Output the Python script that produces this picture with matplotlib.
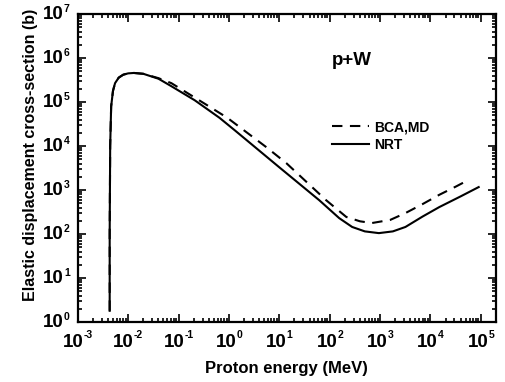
import numpy as np
import matplotlib.pyplot as plt
from matplotlib.ticker import LogLocator, NullFormatter

plt.rcParams["font.family"] = "Liberation Sans"
plt.rcParams["font.weight"] = "bold"

# =============================
# Data (MeV, barn)
# =============================
e_nrt = [0.0043, 0.0043, 0.0044, 0.0046, 0.005, 0.0055, 0.0065, 0.008, 0.010,
         0.013, 0.020, 0.040, 0.072, 0.21, 0.65, 1.3, 10.0, 62.0, 155.0,
         280.0, 500.0, 950.0, 1800.0, 3200.0, 7000.0, 15000.0, 40000.0, 91000.0]
s_nrt = [1.8, 100.0, 1.0e4, 8.0e4, 1.8e5, 2.7e5, 3.6e5, 4.2e5, 4.5e5,
         4.6e5, 4.4e5, 3.4e5, 2.3e5, 1.1e5, 4.4e4, 2.3e4, 3.3e3, 590.0, 230.0,
         145.0, 115.0, 105.0, 115.0, 145.0, 250.0, 410.0, 720.0, 1170.0]

e_bca = [0.0043, 0.0043, 0.0044, 0.0046, 0.005, 0.0055, 0.0065, 0.008, 0.010,
         0.013, 0.020, 0.040, 0.072, 0.37, 0.93, 5.5, 13.8, 85.0, 214.0,
         400.0, 690.0, 1600.0, 3200.0, 7000.0, 15000.0, 32000.0, 60000.0]
s_bca = [1.8, 100.0, 1.0e4, 8.0e4, 1.8e5, 2.7e5, 3.6e5, 4.2e5, 4.5e5,
         4.6e5, 4.4e5, 3.5e5, 2.7e5, 8.5e4, 4.4e4, 9.5e3, 4.1e3, 590.0, 245.0,
         195.0, 178.0, 210.0, 300.0, 480.0, 780.0, 1200.0, 1750.0]

x_exps = [-3, -2, -1, 0, 1, 2, 3, 4, 5]
y_exps = [0, 1, 2, 3, 4, 5, 6, 7]

# =============================
# Plot
# =============================
fig = plt.figure(figsize=(5.05, 3.82), dpi=100)
ax = fig.add_axes([0.154, 0.157, 0.828, 0.806])

ax.plot(e_bca, s_bca, color="black", lw=1.5, ls=(0, (5, 3.6)), label="BCA,MD")
ax.plot(e_nrt, s_nrt, color="black", lw=1.5, label="NRT")

ax.set_xscale("log")
ax.set_yscale("log")
ax.set_xlim(1e-3, 2e5)
ax.set_ylim(1, 1e7)

ax.xaxis.set_major_locator(LogLocator(base=10, numticks=20))
ax.yaxis.set_major_locator(LogLocator(base=10, numticks=20))
ax.xaxis.set_minor_locator(LogLocator(base=10, subs=np.arange(2, 10), numticks=20))
ax.yaxis.set_minor_locator(LogLocator(base=10, subs=np.arange(2, 10), numticks=20))
for axis in (ax.xaxis, ax.yaxis):
    axis.set_major_formatter(NullFormatter())
    axis.set_minor_formatter(NullFormatter())

ax.tick_params(which="both", direction="in", top=True, right=True, width=1.2)
ax.tick_params(which="major", length=6)
ax.tick_params(which="minor", length=3)
for sp in ax.spines.values():
    sp.set_linewidth(1.6)

# ---- tick labels: "10" with a small exponent ----
fs_base, fs_exp = 13.5, 7.5
em_exp = fs_exp * 100 / 72
w10 = 2 * 0.556 * fs_base * 100 / 72


def exp_width(n):
    s = str(n)
    return em_exp * (0.333 * s.count("-") + 0.556 * sum(c.isdigit() for c in s))


for n in x_exps:
    we = exp_width(n)
    dx = (w10 - we) / 2
    ax.annotate("10", xy=(10.0 ** n, 0), xycoords=ax.get_xaxis_transform(),
                xytext=(dx, -12), textcoords="offset pixels",
                ha="right", va="top", fontsize=fs_base, fontweight="bold")
    ax.annotate(str(n), xy=(10.0 ** n, 0), xycoords=ax.get_xaxis_transform(),
                xytext=(dx, -8), textcoords="offset pixels",
                ha="left", va="top", fontsize=fs_exp, fontweight="bold")

for n in y_exps:
    we = exp_width(n)
    ax.annotate("10", xy=(0, 10.0 ** n), xycoords=ax.get_yaxis_transform(),
                xytext=(-8 - we, 0), textcoords="offset pixels",
                ha="right", va="center", fontsize=fs_base, fontweight="bold")
    ax.annotate(str(n), xy=(0, 10.0 ** n), xycoords=ax.get_yaxis_transform(),
                xytext=(-8, 10), textcoords="offset pixels",
                ha="right", va="top", fontsize=fs_exp, fontweight="bold")

ax.set_xlabel("Proton energy (MeV)", fontsize=12, fontweight="bold")
ax.set_ylabel("Elastic displacement cross-section (b)", fontsize=11.5,
              fontweight="bold")
ax.xaxis.set_label_coords(0.5, -0.125)
ax.yaxis.set_label_coords(-0.096, 0.542)

ax.text(0.608, 0.834, "p+W", transform=ax.transAxes, fontsize=13.5,
        fontweight="bold")

leg = ax.legend(loc="upper left", bbox_to_anchor=(0.608, 0.656), frameon=False,
                fontsize=10, handlelength=2.7, handletextpad=0.36,
                labelspacing=0.3, borderpad=0, borderaxespad=0)
for t in leg.get_texts():
    t.set_fontweight("bold")

plt.savefig("out.png", dpi=100)
